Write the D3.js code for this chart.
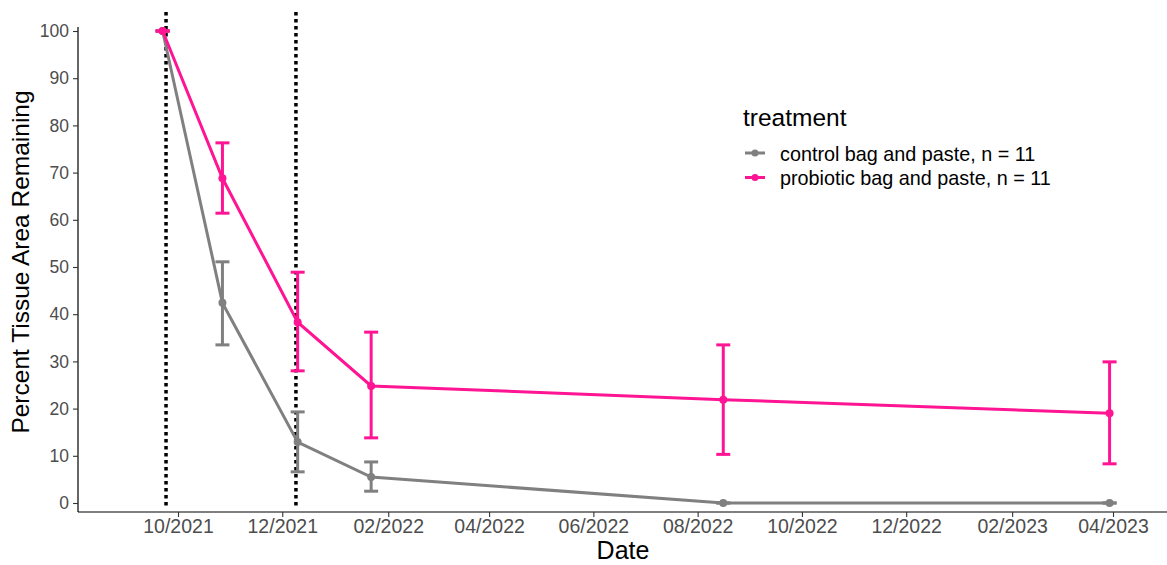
<!doctype html>
<html>
<head>
<meta charset="utf-8">
<title></title>
<style>
body{ margin:0; background:#fff; }
svg text{ font-family:"Liberation Sans", Arial, sans-serif; }
</style>
</head>
<body>
<svg></svg>
<script src="https://cdn.jsdelivr.net/npm/d3@7"></script>
<script>
var width = 1167;
var height = 565;

// data
var dates = ['2021-09-22','2021-10-27','2021-12-10','2022-01-22','2022-08-16','2023-03-30'];
var controlMean = [100, 42.4, 12.9, 5.5, 0, 0];
var controlLow  = [100, 33.5, 6.6, 2.5, 0, 0];
var controlHigh = [100, 51.1, 19.3, 8.7, 0, 0];
var probioMean  = [100, 68.8, 38.3, 24.8, 21.9, 19.0];
var probioLow   = [100, 61.4, 28.0, 13.8, 10.3, 8.3];
var probioHigh  = [100, 76.3, 48.9, 36.2, 33.5, 29.9];
var eventDates  = ['2021-09-24','2021-12-09'];
var xTicks = ['2021-10-01','2021-12-01','2022-02-01','2022-04-01','2022-06-01','2022-08-01',
              '2022-10-01','2022-12-01','2023-02-01','2023-04-01'];
var yTicks = [0,10,20,30,40,50,60,70,80,90,100];
var seriesNames = ['control bag and paste, n = 11','probiotic bag and paste, n = 11'];
var seriesColors = ['#808080','#ff1493'];

var parse = d3.timeParse('%Y-%m-%d');

var series = [
  {name:seriesNames[0], color:seriesColors[0], mean:controlMean, lo:controlLow, hi:controlHigh},
  {name:seriesNames[1], color:seriesColors[1], mean:probioMean, lo:probioLow, hi:probioHigh}
].map(function(s){
  s.values = dates.map(function(d,i){
    return {date:parse(d), mean:s.mean[i], lo:s.lo[i], hi:s.hi[i]};
  });
  return s;
});

var svg = d3.select('svg').attr('width',width).attr('height',height);

var x = d3.scaleTime()
  .domain([parse('2021-10-01'), parse('2023-04-01')])
  .range([178, 1113]);
var y = d3.scaleLinear().domain([0,100]).range([503,31]);

var left = 78, bottom = 512;

// dotted event lines
svg.selectAll('line.event')
  .data(eventDates)
  .enter().append('line')
  .attr('class','event')
  .attr('x1',function(d){ return x(parse(d)); })
  .attr('x2',function(d){ return x(parse(d)); })
  .attr('y1',12).attr('y2',507)
  .attr('stroke','#000').attr('stroke-width',3.5)
  .attr('stroke-dasharray','3.5,3.5');

// axes
var yAxis = svg.append('g')
  .attr('transform','translate('+left+',0)')
  .call(d3.axisLeft(y).tickValues(yTicks).tickSize(5).tickPadding(4));
var xAxis = svg.append('g')
  .attr('transform','translate(0,'+bottom+')')
  .call(d3.axisBottom(x).tickValues(xTicks.map(parse)).tickSize(5).tickPadding(2)
        .tickFormat(d3.timeFormat('%m/%Y')));

yAxis.select('.domain').attr('d','M0,27V'+bottom).attr('stroke','#000').attr('stroke-width',1.2);
xAxis.select('.domain').attr('d','M'+left+',0H'+width).attr('stroke','#000').attr('stroke-width',1.2);
svg.selectAll('.tick line').attr('stroke','#333').attr('stroke-width',1.1);
yAxis.selectAll('.tick text').attr('fill','#4d4d4d').style('font-size','17.5px');
xAxis.selectAll('.tick text').attr('fill','#4d4d4d').style('font-size','19.5px');

// lines
var line = d3.line()
  .x(function(d){ return x(d.date); })
  .y(function(d){ return y(d.mean); });

var g = svg.selectAll('g.series')
  .data(series)
  .enter().append('g')
  .attr('class','series');

g.append('path')
  .attr('d',function(s){ return line(s.values); })
  .attr('fill','none')
  .attr('stroke',function(s){ return s.color; })
  .attr('stroke-width',3);

// error bars
g.each(function(s){
  var eb = d3.select(this).selectAll('g.eb')
    .data(s.values)
    .enter().append('g').attr('class','eb');
  eb.append('line')
    .attr('x1',function(d){ return x(d.date); })
    .attr('x2',function(d){ return x(d.date); })
    .attr('y1',function(d){ return y(d.lo); })
    .attr('y2',function(d){ return y(d.hi); });
  eb.append('line')
    .attr('x1',function(d){ return x(d.date)-7; })
    .attr('x2',function(d){ return x(d.date)+7; })
    .attr('y1',function(d){ return y(d.hi); })
    .attr('y2',function(d){ return y(d.hi); });
  eb.append('line')
    .attr('x1',function(d){ return x(d.date)-7; })
    .attr('x2',function(d){ return x(d.date)+7; })
    .attr('y1',function(d){ return y(d.lo); })
    .attr('y2',function(d){ return y(d.lo); });
  eb.selectAll('line').attr('stroke',s.color).attr('stroke-width',3);
  d3.select(this).selectAll('circle')
    .data(s.values)
    .enter().append('circle')
    .attr('cx',function(d){ return x(d.date); })
    .attr('cy',function(d){ return y(d.mean); })
    .attr('r',4)
    .attr('fill',s.color);
});

// axis titles
svg.append('text')
  .attr('x',623).attr('y',559)
  .attr('text-anchor','middle')
  .style('font-size','25px')
  .text('Date');
svg.append('text')
  .attr('transform','translate(29,262) rotate(-90)')
  .attr('text-anchor','middle')
  .style('font-size','24.5px')
  .text('Percent Tissue Area Remaining');

// legend
var legend = svg.append('g').attr('transform','translate(743,0)');
legend.append('text')
  .attr('x',0).attr('y',126)
  .style('font-size','24.5px')
  .text('treatment');
var items = legend.selectAll('g.item')
  .data(series)
  .enter().append('g')
  .attr('class','item')
  .attr('transform',function(d,i){ return 'translate(0,'+(153+i*24.5)+')'; });
items.append('line')
  .attr('x1',2).attr('x2',22)
  .attr('stroke',function(d){ return d.color; })
  .attr('stroke-width',3);
items.append('circle')
  .attr('cx',12).attr('r',3.5)
  .attr('fill',function(d){ return d.color; });
items.append('text')
  .attr('x',37).attr('y',7.5)
  .style('font-size','19.8px')
  .text(function(d){ return d.name; });
</script>
</body>
</html>
